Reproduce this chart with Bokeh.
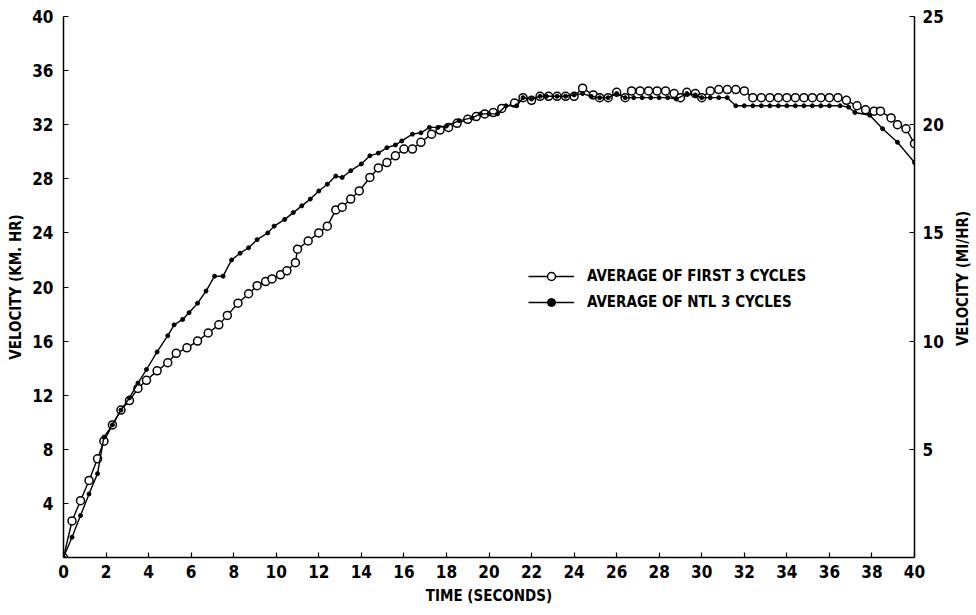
import math
from bokeh.plotting import figure
from bokeh.layouts import row
from bokeh.models import Range1d, LinearAxis, FixedTicker, Legend, LegendItem, Label
from bokeh.embed import file_html
from bokeh.resources import INLINE

# Average of first 3 cycles (open circles)
time_first = [0.0, 0.4, 0.8, 1.2, 1.6, 1.9, 2.3, 2.7, 3.1, 3.5, 3.9, 4.4, 4.9, 5.3, 5.8,
              6.3, 6.8, 7.3, 7.7, 8.2, 8.7, 9.1, 9.5, 9.8, 10.2, 10.5, 10.9, 11.0, 11.5,
              12.0, 12.4, 12.8, 13.1, 13.5, 13.9, 14.4, 14.8, 15.2, 15.6, 16.0, 16.4,
              16.8, 17.3, 17.7, 18.1, 18.5, 19.0, 19.4, 19.8, 20.2, 20.6, 21.2, 21.6,
              22.0, 22.4, 22.8, 23.2, 23.6, 24.0, 24.4, 24.9, 25.2, 25.6, 26.0, 26.4,
              26.7, 27.1, 27.5, 27.9, 28.3, 28.7, 29.0, 29.3, 29.7, 30.0, 30.4, 30.8,
              31.2, 31.6, 32.0, 32.4, 32.8, 33.2, 33.6, 34.0, 34.4, 34.8, 35.2, 35.6,
              36.0, 36.4, 36.8, 37.3, 37.7, 38.1, 38.4, 38.9, 39.2, 39.6, 40.0]
vel_first = [0.0, 2.7, 4.2, 5.7, 7.3, 8.6, 9.8, 10.9, 11.6, 12.5, 13.1, 13.8, 14.4, 15.1, 15.5,
             16.0, 16.6, 17.2, 17.9, 18.8, 19.5, 20.1, 20.4, 20.6, 20.9, 21.2, 21.8, 22.8, 23.4,
             24.0, 24.5, 25.7, 25.9, 26.5, 27.1, 28.1, 28.8, 29.2, 29.7, 30.2, 30.2,
             30.7, 31.3, 31.6, 31.8, 32.1, 32.4, 32.6, 32.8, 32.9, 33.2, 33.6, 34.0,
             33.8, 34.1, 34.1, 34.1, 34.1, 34.1, 34.7, 34.2, 34.0, 34.0, 34.4, 34.0,
             34.5, 34.5, 34.5, 34.5, 34.5, 34.3, 34.0, 34.4, 34.3, 34.0, 34.5, 34.6,
             34.6, 34.6, 34.5, 34.0, 34.0, 34.0, 34.0, 34.0, 34.0, 34.0, 34.0, 34.0,
             34.0, 34.0, 33.8, 33.4, 33.1, 33.0, 33.0, 32.5, 32.0, 31.7, 30.6]

# Average of NTL 3 cycles (small dots)
time_ntl = [0.0, 0.4, 0.8, 1.2, 1.6, 1.9, 2.3, 2.7, 3.1, 3.5, 3.9, 4.4, 4.9, 5.2, 5.6, 5.9,
            6.3, 6.7, 7.1, 7.5, 7.9, 8.3, 8.7, 9.1, 9.6, 9.9, 10.4, 10.8, 11.2, 11.6, 12.0,
            12.4, 12.8, 13.1, 13.5, 14.0, 14.4, 14.8, 15.2, 15.6, 15.9, 16.4, 16.8, 17.2,
            17.6, 18.0, 18.6, 19.2, 19.6, 20.0, 20.4, 20.8, 21.3, 21.6, 22.0, 22.4, 22.7,
            23.2, 23.6, 24.0, 24.4, 24.8, 25.2, 25.6, 26.0, 26.4, 26.8, 27.2, 27.6, 28.0,
            28.4, 28.8, 29.3, 29.7, 30.0, 30.4, 30.8, 31.2, 31.6, 32.0, 32.4, 32.8, 33.2,
            33.6, 34.0, 34.4, 34.8, 35.2, 35.6, 36.0, 36.5, 36.9, 37.2, 37.9, 38.5, 39.2, 40.0]
vel_ntl = [0.0, 1.5, 3.1, 4.7, 6.2, 8.9, 9.8, 10.9, 11.8, 12.9, 13.9, 15.2, 16.4, 17.2, 17.6, 18.1,
           18.8, 19.7, 20.8, 20.8, 22.0, 22.5, 22.9, 23.5, 24.0, 24.5, 25.0, 25.5, 26.0, 26.5, 27.1,
           27.6, 28.2, 28.1, 28.6, 29.1, 29.7, 29.9, 30.3, 30.5, 30.8, 31.3, 31.4, 31.8,
           31.8, 31.9, 32.3, 32.5, 32.8, 32.8, 32.8, 33.4, 33.4, 34.0, 33.9, 34.1, 34.1,
           34.1, 34.1, 34.2, 34.3, 34.1, 34.0, 34.0, 34.3, 34.0, 34.0, 34.0, 34.0, 34.0,
           34.0, 33.9, 34.3, 34.2, 34.0, 34.0, 34.0, 34.0, 33.4, 33.4, 33.4, 33.4, 33.4,
           33.4, 33.4, 33.4, 33.4, 33.4, 33.4, 33.4, 33.4, 33.3, 32.9, 32.7, 31.7, 30.7, 29.2]

x_ticks = list(range(0, 41, 2))
y_ticks = list(range(4, 41, 4))
mph_ticks = [5, 10, 15, 20, 25]

FONT = "DejaVu Sans Condensed"

p = figure(width=946, height=615, output_backend="svg", toolbar_location=None,
           x_range=Range1d(0, 40), y_range=Range1d(0, 40),
           min_border_left=63, min_border_right=30, min_border_top=16, min_border_bottom=58,
           x_axis_label="TIME (SECONDS)", y_axis_label="VELOCITY (KM. HR)")
p.extra_y_ranges = {"mph": Range1d(0, 25)}
p.outline_line_color = None
p.grid.visible = False
p.background_fill_color = "white"
p.border_fill_color = "white"

raxis = LinearAxis(y_range_name="mph")
p.add_layout(raxis, "right")

for ax in [p.xaxis[0], p.yaxis[0], raxis]:
    ax.axis_line_color = "black"
    ax.axis_line_width = 1.5
    ax.major_tick_in = 5
    ax.major_tick_out = 0
    ax.minor_tick_line_color = None
    ax.major_tick_line_color = "black"
    ax.major_tick_line_width = 1.2
    ax.major_label_text_font = FONT
    ax.major_label_text_font_style = "bold"
    ax.major_label_text_font_size = "17px"
    ax.major_label_text_color = "black"
    ax.axis_label_text_font = FONT
    ax.axis_label_text_font_style = "bold"
    ax.axis_label_text_font_size = "15px"
    ax.axis_label_text_color = "black"

p.xaxis[0].ticker = FixedTicker(ticks=x_ticks)
p.yaxis[0].ticker = FixedTicker(ticks=y_ticks)
raxis.ticker = FixedTicker(ticks=mph_ticks)
p.xaxis[0].major_label_standoff = 7
p.xaxis[0].axis_label_standoff = 6
p.yaxis[0].major_label_standoff = 10
p.yaxis[0].axis_label_standoff = 4
raxis.major_label_standoff = 8

l1 = p.line(time_first, vel_first, line_color="black", line_width=1.4)
c1 = p.scatter(time_first, vel_first, marker="circle", size=8, fill_color="white",
               line_color="black", line_width=1.5)
l2 = p.line(time_ntl, vel_ntl, line_color="black", line_width=1.4)
c2 = p.scatter(time_ntl, vel_ntl, marker="circle", size=4, fill_color="black",
               line_color="black")

legend = Legend(items=[LegendItem(label="AVERAGE OF FIRST 3 CYCLES", renderers=[l1, c1]),
                       LegendItem(label="AVERAGE OF NTL 3 CYCLES", renderers=[l2, c2])],
                location=(465, 245), orientation="vertical",
                glyph_width=46, glyph_height=20, label_height=20, spacing=6,
                padding=0, margin=0, label_standoff=13,
                border_line_color=None, background_fill_alpha=0)
legend.label_text_font = FONT
legend.label_text_font_style = "bold"
legend.label_text_font_size = "15px"
legend.label_text_color = "black"
p.add_layout(legend, "center")

# narrow strip carrying the right-hand axis title (reads bottom to top)
p2 = figure(width=30, height=615, output_backend="svg", toolbar_location=None,
            x_range=Range1d(0, 1), y_range=Range1d(0, 1),
            x_axis_type=None, y_axis_type=None, min_border=0)
p2.outline_line_color = None
p2.grid.visible = False
p2.border_fill_color = "white"
p2.background_fill_color = "white"
rtitle = Label(x=16, y=279, x_units="screen", y_units="screen",
               text="VELOCITY (MI/HR)", angle=math.pi / 2,
               text_align="center", text_baseline="middle",
               text_font=FONT, text_font_style="bold", text_font_size="15px",
               text_color="black")
p2.add_layout(rtitle)

layout = row(p, p2, spacing=0)
open("out.html", "w").write(file_html(layout, INLINE))
